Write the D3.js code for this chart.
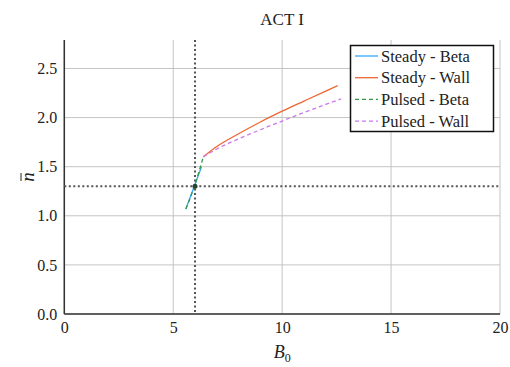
<!DOCTYPE html>
<html><head><meta charset="utf-8">
<script src="https://cdn.jsdelivr.net/npm/d3@7"></script>
<style>body{margin:0;background:#fff}svg{display:block}text{fill:#222}</style>
</head><body><svg id="c" width="510" height="367"></svg>
<script>
const xTicks=[0,5,10,15,20];
const yTicks=[0,0.5,1.0,1.5,2.0,2.5];
const steadyBeta=[[5.58,1.07],[5.95,1.29],[6.30,1.50]];
const pulsedBeta=[[5.58,1.07],[6.0,1.32],[6.38,1.60]];
const steadyWall=[[6.38,1.60],[7,1.705],[8,1.835],[9,1.955],[10,2.065],[11,2.168],[12,2.27],[12.55,2.325]];
const pulsedWall=[[6.38,1.60],[7,1.68],[8,1.783],[9,1.876],[10,1.965],[11,2.051],[12,2.134],[12.7,2.19]];
const refPoint=[6,1.3];
const seriesNames=["Steady - Beta","Steady - Wall","Pulsed - Beta","Pulsed - Wall"];
const colors=["#33aaff","#ee6633","#339944","#cc77ee"];
const dashes=[null,null,"4,3","4,3"];
const F="Liberation Serif";

const svg=d3.select("#c");
const L=64.3,R=500,T=40,B=314;
const x=d3.scaleLinear().domain([0,20]).range([L,R]);
const y=d3.scaleLinear().domain([0,2.79]).range([B,T]);

svg.append("g").selectAll("line").data(xTicks).join("line")
 .attr("x1",d=>x(d)).attr("x2",d=>x(d)).attr("y1",T).attr("y2",B)
 .attr("stroke","#c4c4c4").attr("stroke-width",1);
svg.append("g").selectAll("line").data(yTicks).join("line")
 .attr("x1",L).attr("x2",R).attr("y1",d=>y(d)).attr("y2",d=>y(d))
 .attr("stroke","#c4c4c4").attr("stroke-width",1);

const xa=svg.append("g").attr("transform",`translate(0,${B})`)
 .call(d3.axisBottom(x).tickValues(xTicks).tickFormat(d3.format("d")).tickSize(0).tickPadding(8));
const ya=svg.append("g").attr("transform",`translate(${L},0)`)
 .call(d3.axisLeft(y).tickValues(yTicks).tickFormat(d3.format(".1f")).tickSize(0).tickPadding(7));
[xa,ya].forEach(a=>{a.attr("font-family",F);
 a.select(".domain").attr("stroke","#333").attr("stroke-width",1.5);
 a.selectAll("text").attr("font-family",F).attr("font-size",16).attr("fill","#333");});
ya.select(".domain").attr("d",`M0,${T}V${B}`);
xa.select(".domain").attr("d",`M${L},0H${R}`);

svg.append("line").attr("x1",x(refPoint[0])).attr("x2",x(refPoint[0])).attr("y1",T).attr("y2",B)
 .attr("stroke","#555").attr("stroke-width",2).attr("stroke-dasharray","2,2.5");
svg.append("line").attr("x1",L).attr("x2",R).attr("y1",y(refPoint[1])).attr("y2",y(refPoint[1]))
 .attr("stroke","#555").attr("stroke-width",2).attr("stroke-dasharray","2,2.5");

const line=d3.line().x(d=>x(d[0])).y(d=>y(d[1])).curve(d3.curveMonotoneX);
const data=[steadyBeta,steadyWall,pulsedBeta,pulsedWall];
data.forEach((s,i)=>{
 svg.append("path").attr("d",line(s)).attr("fill","none").attr("stroke",colors[i])
  .attr("stroke-width",1.3).attr("stroke-dasharray",dashes[i]);
});
svg.append("circle").attr("cx",x(refPoint[0])).attr("cy",y(refPoint[1])).attr("r",2.5).attr("fill","#224433");

svg.append("text").attr("x",(L+R)/2).attr("y",25).attr("text-anchor","middle").attr("font-family",F).attr("font-size",17).text("ACT I");
const xl=svg.append("text").attr("x",(L+R)/2).attr("y",358).attr("text-anchor","middle").attr("font-family",F).attr("font-size",18);
xl.append("tspan").attr("font-style","italic").text("B");
xl.append("tspan").attr("dy",4).attr("font-size",12).text("0");
svg.append("text").attr("transform",`translate(34,${(T+B)/2}) rotate(-90)`).attr("text-anchor","middle")
 .attr("font-family",F).attr("font-size",19).attr("font-style","italic").text("n");
svg.append("line").attr("x1",21).attr("x2",21).attr("y1",(T+B)/2-4).attr("y2",(T+B)/2+4)
 .attr("stroke","#222").attr("stroke-width",1);

const lg=svg.append("g");
lg.append("rect").attr("x",350.5).attr("y",45.5).attr("width",143).attr("height",86)
 .attr("fill","#fff").attr("stroke","#111").attr("stroke-width",1.5);
seriesNames.forEach((n,i)=>{
 const yy=56+i*21.7;
 lg.append("line").attr("x1",355).attr("x2",378).attr("y1",yy).attr("y2",yy)
  .attr("stroke",colors[i]).attr("stroke-width",1.3).attr("stroke-dasharray",dashes[i]);
 lg.append("text").attr("x",381).attr("y",yy+5.5).attr("font-family",F).attr("font-size",16.5).text(n);
});
</script></body></html>
